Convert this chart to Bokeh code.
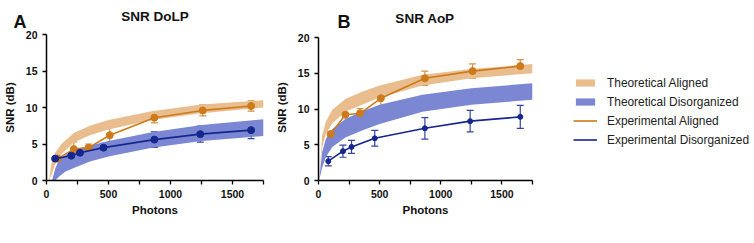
from bokeh.plotting import figure
from bokeh.layouts import row, column
from bokeh.models import (ColumnDataSource, FixedTicker, Legend, LegendItem,
                          Whisker, TeeHead)
from bokeh.core.properties import value
from bokeh.embed import file_html
from bokeh.resources import INLINE

# ---------------- data ----------------
x_ticks = [0, 500, 1000, 1500]
x_minor = [250, 750, 1250, 1750]
y_ticks = [0, 5, 10, 15, 20]

# Panel A (SNR DoLP)
a_band_al_x = [20, 40, 70, 120, 220, 350, 500, 850, 1250, 1750]
a_band_al_lo = [0.0, 0.8, 2.2, 3.6, 5.2, 6.2, 7.0, 8.3, 9.2, 10.0]
a_band_al_hi = [0.0, 2.3, 3.8, 5.0, 6.5, 7.5, 8.3, 9.5, 10.4, 11.0]
a_band_dis_x = [45, 70, 100, 150, 220, 350, 500, 850, 1250, 1750]
a_band_dis_lo = [0.0, 0.0, 0.5, 1.2, 1.7, 2.6, 3.3, 4.5, 5.4, 6.1]
a_band_dis_hi = [0.0, 1.6, 2.8, 3.5, 4.1, 4.8, 5.4, 6.6, 7.6, 8.4]
a_al_x = [90, 220, 340, 510, 870, 1260, 1650]
a_al_y = [3.0, 4.3, 4.5, 6.2, 8.6, 9.6, 10.2]
a_al_err = [0.2, 1.0, 0.5, 1.2, 0.7, 0.75, 0.7]
a_dis_x = [70, 200, 270, 460, 870, 1240, 1650]
a_dis_y = [3.0, 3.4, 3.8, 4.5, 5.6, 6.35, 6.9]
a_dis_err = [0.15, 0.3, 0.4, 0.6, 1.05, 1.1, 1.15]

# Panel B (SNR AoP)
b_band_al_x = [5, 30, 60, 113, 220, 356, 500, 850, 1250, 1750]
b_band_al_lo = [0.0, 4.6, 6.5, 8.0, 9.6, 10.6, 11.6, 13.3, 14.3, 15.0]
b_band_al_hi = [0.0, 6.3, 8.2, 9.9, 11.4, 12.4, 13.3, 14.8, 15.6, 16.3]
b_band_dis_x = [5, 30, 60, 113, 220, 356, 500, 850, 1250, 1750]
b_band_dis_lo = [0.0, 1.8, 3.3, 4.7, 6.0, 7.0, 7.9, 9.6, 10.6, 11.3]
b_band_dis_hi = [0.0, 4.0, 5.8, 7.2, 8.6, 9.7, 10.6, 12.0, 12.9, 13.6]
b_al_x = [100, 220, 340, 510, 870, 1260, 1650]
b_al_y = [6.5, 9.2, 9.4, 11.5, 14.3, 15.3, 16.0]
b_al_err = [0.3, 1.5, 0.65, 1.55, 1.0, 1.0, 0.9]
b_dis_x = [80, 200, 270, 460, 870, 1240, 1650]
b_dis_y = [2.7, 4.1, 4.7, 5.9, 7.3, 8.3, 8.9]
b_dis_err = [0.65, 0.85, 0.9, 1.1, 1.5, 1.5, 1.6]

panel_letters = ["A", "B"]
panel_titles = ["SNR DoLP", "SNR AoP"]
legend_labels = ["Theoretical Aligned", "Theoretical Disorganized",
                 "Experimental Aligned", "Experimental Disorganized"]

# ---------------- style ----------------
FONT = "Liberation Sans"
TAN = "#EABD8E"
PERI = "#7B87D3"
ORANGE = "#CD7A1A"
ORANGE_ERR = "#D4934A"
NAVY = "#16268F"
NAVY_ERR = "#3444A0"

TOTAL_W = 752
HEADER_H = 29
PLOT_H = 214
TOP_B = 5      # shared by every figure of the row
BOT_B = 63

# ---------------- header (panel letters + titles) ----------------
hdr = figure(width=TOTAL_W, height=HEADER_H, x_range=(0, TOTAL_W), y_range=(0, HEADER_H),
             output_backend="svg", toolbar_location=None, title=None,
             x_axis_location=None, y_axis_location=None,
             min_border=0, min_border_left=0, min_border_right=0,
             min_border_top=0, min_border_bottom=0)
hdr.grid.visible = False
hdr.outline_line_color = None
hdr.text(x=[13, 337], y=[8, 8], text=panel_letters, text_font=value(FONT),
         text_font_style="bold", text_font_size="18px", text_color="#111111",
         text_align="left", text_baseline="alphabetic")
hdr.text(x=[154.5, 424.5], y=[13.5, 11], text=panel_titles, text_font=value(FONT),
         text_font_style="bold", text_font_size="13.5px", text_color="#111111",
         text_align="center", text_baseline="alphabetic")


def draw_data(p, band_al, band_dis, al, dis, dis_size, al_size):
    r_al_band = p.varea(x=band_al[0], y1=band_al[1], y2=band_al[2], fill_color=TAN)
    r_dis_band = p.varea(x=band_dis[0], y1=band_dis[1], y2=band_dis[2], fill_color=PERI)
    results = [r_al_band, r_dis_band]
    for (xs, ys, es, col, ecol, size) in [(al[0], al[1], al[2], ORANGE, ORANGE_ERR, al_size),
                                           (dis[0], dis[1], dis[2], NAVY, NAVY_ERR, dis_size)]:
        src = ColumnDataSource(dict(x=xs, y=ys,
                                    lo=[y - e for y, e in zip(ys, es)],
                                    hi=[y + e for y, e in zip(ys, es)]))
        w = Whisker(base="x", lower="lo", upper="hi", source=src,
                    line_color=ecol, line_width=1.2,
                    upper_head=TeeHead(size=7, line_color=ecol, line_width=1.2),
                    lower_head=TeeHead(size=7, line_color=ecol, line_width=1.2))
        p.add_layout(w)
        rl = p.line("x", "y", source=src, line_color=col, line_width=1.6)
        p.scatter("x", "y", source=src, size=size, fill_color=col, line_color=col)
        results.append(rl)
    return results


def make_panel(width, bl, br, y_end, data):
    p = figure(width=width, height=PLOT_H, x_range=(0, 1750), y_range=(0, y_end),
               output_backend="svg", toolbar_location=None, title=None,
               min_border_left=bl, min_border_right=br,
               min_border_top=TOP_B, min_border_bottom=BOT_B)
    p.outline_line_color = None
    p.xgrid.visible = False
    p.ygrid.visible = False
    results = draw_data(p, *data)

    for ax in (p.xaxis[0], p.yaxis[0]):
        ax.axis_line_color = "black"
        ax.axis_line_width = 1.5
        ax.major_tick_line_color = "black"
        ax.major_tick_line_width = 1.3
        ax.minor_tick_line_color = "black"
        ax.minor_tick_line_width = 1.3
        ax.major_tick_out = 4
        ax.major_tick_in = 0
        ax.minor_tick_out = 4
        ax.minor_tick_in = 0
        ax.major_label_text_font = FONT
        ax.major_label_text_font_style = "bold"
        ax.major_label_text_font_size = "10.5px"
        ax.major_label_text_color = "#111111"
        ax.major_label_standoff = 5
        ax.axis_label_text_font = FONT
        ax.axis_label_text_font_style = "bold"
        ax.axis_label_text_font_size = "11.5px"
        ax.axis_label_text_color = "#111111"
    p.xaxis.ticker = FixedTicker(ticks=x_ticks, minor_ticks=x_minor)
    p.yaxis.ticker = FixedTicker(ticks=y_ticks, minor_ticks=[])
    p.yaxis.bounds = (0, 20)
    p.xaxis.axis_label = "Photons"
    p.yaxis.axis_label = "SNR (dB)"
    p.xaxis.axis_label_standoff = 3
    p.yaxis.axis_label_standoff = 7
    return p, results


data_A = ((a_band_al_x, a_band_al_lo, a_band_al_hi),
          (a_band_dis_x, a_band_dis_lo, a_band_dis_hi),
          (a_al_x, a_al_y, a_al_err), (a_dis_x, a_dis_y, a_dis_err), 7, 7)
data_B = ((b_band_al_x, b_band_al_lo, b_band_al_hi),
          (b_band_dis_x, b_band_dis_lo, b_band_dis_hi),
          (b_al_x, b_al_y, b_al_err), (b_dis_x, b_dis_y, b_dis_err), 5, 7)

# panel A: frame x 46..263, y 34..180
pA, _ = make_panel(272, 46, 9, 20, data_A)
# panel B: frame x 316..532, y 34..180 with 20 dB at y 37
pB, _ = make_panel(272, 44, 12, 20 * 146 / 143, data_B)

# legend panel: the B series drawn off-range, only the legend shows
LEG_W = TOTAL_W - 272 - 272
pC = figure(width=LEG_W, height=PLOT_H, x_range=(-2, -1), y_range=(-2, -1),
            output_backend="svg", toolbar_location=None, title=None,
            x_axis_location=None, y_axis_location=None,
            min_border=0, min_border_left=0, min_border_right=0,
            min_border_top=TOP_B, min_border_bottom=BOT_B)
pC.grid.visible = False
pC.outline_line_color = None
rC = draw_data(pC, *data_B)

legend = Legend(items=[LegendItem(label=legend_labels[i], renderers=[rC[i]]) for i in range(4)],
                location=(29, 32), orientation="vertical",
                glyph_width=24, glyph_height=9, label_height=17, spacing=2,
                label_standoff=10, padding=0, margin=0,
                border_line_color=None, background_fill_alpha=0,
                label_text_font=FONT, label_text_font_size="11.9px",
                label_text_color="#222222")
pC.add_layout(legend, "center")

layout = column(hdr, row(pA, pB, pC, spacing=0), spacing=0)
open("out.html", "w").write(file_html(layout, INLINE))
